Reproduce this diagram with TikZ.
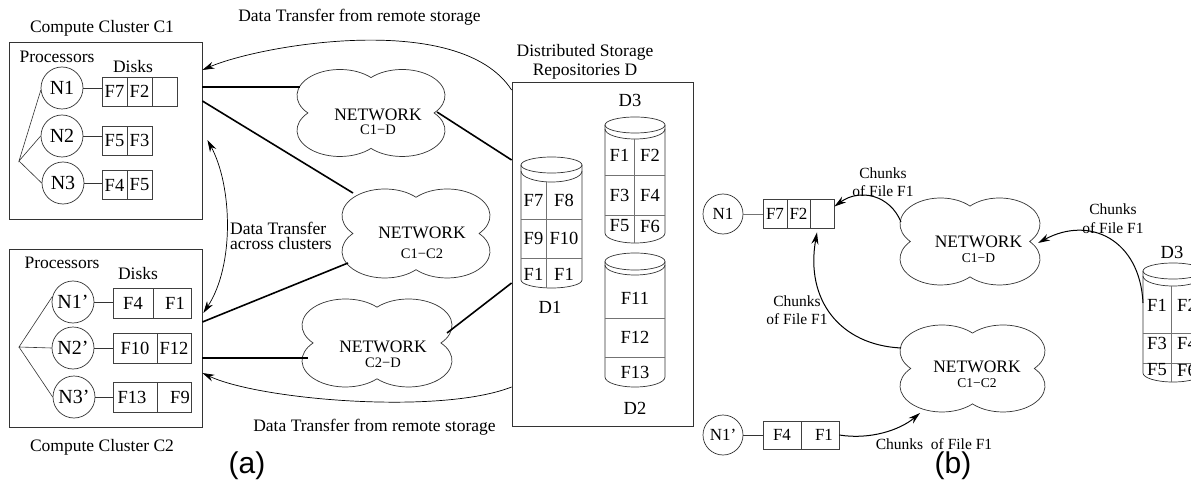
\documentclass[tikz,border=0pt]{standalone}
\usepackage{fontspec}
\setmainfont{Liberation Serif}
\newfontfamily\panelfont{Liberation Sans}
\usetikzlibrary{arrows.meta}

\newcommand\txtsz{\fontsize{17.5}{20}\selectfont}
\newcommand\subsz{\fontsize{14.5}{16}\selectfont}
\newcommand\subbsz{\fontsize{13.5}{15}\selectfont}
\newcommand\cellsz{\fontsize{18.5}{20}\selectfont}
\newcommand\procsz{\fontsize{20}{22}\selectfont}
\newcommand\smallprocsz{\fontsize{17}{19}\selectfont}
\newcommand\chunksz{\fontsize{15.5}{18.5}\selectfont}

% cylinder: centre x, half width, lid centre y, lid half height,
% rim centre y, rim depth, foot y, foot depth
\newcommand\drum[8]{%
  \draw[drumline] (#1,#3) ellipse[x radius=#2, y radius=#4];
  \draw[drumline] ({#1-#2},#5) arc[start angle=180, end angle=0, x radius=#2, y radius=#6];
  \draw[drumline] ({#1-#2},#3) -- ({#1-#2},#7)
     arc[start angle=180, end angle=0, x radius=#2, y radius=#8] -- ({#1+#2},#3);
}

% four-lobed cloud outline around a node, half width #2, half height #3
\newcommand\cloudat[3]{%
  \begin{scope}[shift={(#1.center)}, xscale=#2, yscale=#3]
    \draw[cloudline] (0,-0.814)
      arc[start angle=-136.4, end angle=41.8, x radius=0.58, y radius=0.6]
      arc[start angle=-41.8, end angle=136.4, x radius=0.58, y radius=0.6]
      arc[start angle=43.6, end angle=221.8, x radius=0.58, y radius=0.6]
      arc[start angle=138.2, end angle=316.4, x radius=0.58, y radius=0.6]
      -- cycle;
  \end{scope}}

\tikzset{
  txt/.style={font=\txtsz, inner sep=0},
  boxframe/.style={draw=black!80, line width=0.8pt, inner sep=0},
  proc/.style={circle, draw=black!80, line width=0.7pt, minimum size=42pt, inner sep=0, font=\procsz},
  procb/.style={circle, draw=black!80, line width=0.7pt, minimum size=40pt, inner sep=0, font=\smallprocsz},
  cell/.style={draw=black!75, line width=0.7pt, minimum width=#1, minimum height=29pt, inner sep=0, font=\cellsz},
  cellb/.style={draw=black!75, line width=0.7pt, minimum width=#1, minimum height=29pt, inner sep=0, font=\smallprocsz},
  cloudnode/.style 2 args={minimum width=#1, minimum height=#2, inner sep=0},
  cloudline/.style={draw=black!80, line width=0.7pt},
  drumline/.style={draw=black!80, line width=0.7pt},
  gridline/.style={draw=black!55, line width=0.7pt},
  thinline/.style={draw=black!80, line width=0.6pt},
  link/.style={draw=black, line width=1.6pt},
  transfer/.style={draw=black, line width=0.7pt, -{Stealth[length=12pt,width=7pt]}},
  chunkarrow/.style={draw=black, line width=1pt, -{Stealth[length=12pt,width=7pt]}},
  drumtext/.style={font=\cellsz, inner sep=0},
  chunktext/.style={font=\chunksz, align=center, inner sep=0},
}

\begin{document}
\begin{tikzpicture}[x=1pt, y=-1pt]
\useasboundingbox (0,0) rectangle (1191,481);
\clip (0,0) rectangle (1191,481);
\fill[white] (0,0) rectangle (1191,481);

%%% ---------------- (a) ----------------
% compute cluster C1
\node[txt] (c1lab) at (102,28) {Compute Cluster C1};
\node[boxframe, minimum width=193pt, minimum height=177pt] (c1) at (105.5,130.5) {};
\node[txt] (c1proc) at (57,57) {Processors};
\node[txt] (c1disk) at (133,67) {Disks};
\node[proc] (p1) at (62,88) {N1};
\node[proc] (p2) at (62,136) {N2};
\node[proc] (p3) at (63,183) {N3};
\node[cell=25pt] (a11) at (114.5,91.5) {F7};
\node[cell=25pt] (a12) at (139.5,91.5) {F2};
\node[cell=25pt] (a13) at (164.5,91.5) {};
\node[cell=25pt] (a21) at (114.5,140.5) {F5};
\node[cell=25pt] (a22) at (139.5,140.5) {F3};
\node[cell=25pt] (a31) at (114.5,185) {F4};
\node[cell=25pt] (a32) at (139.5,185) {F5};
\draw[thinline] (p1.east) -- (p1.east -| a11.west);
\draw[thinline] (p2.east) -- (p2.east -| a21.west);
\draw[thinline] (p3.east) -- (p3.east -| a31.west);
\coordinate (t1) at (19,161);
\draw[thinline] (p1.186) -- (t1) -- (p2.west);
\draw[thinline] (t1) -- (p3.west);

% compute cluster C2
\node[txt] (c2lab) at (102,447) {Compute Cluster C2};
\node[boxframe, minimum width=193pt, minimum height=178pt] (c2) at (105.5,338) {};
\node[txt] (c2proc) at (62,263) {Processors};
\node[txt] (c2disk) at (138,274) {Disks};
\node[proc] (q1) at (73,302) {N1'};
\node[proc] (q2) at (73,348) {N2'};
\node[proc] (q3) at (74,397) {N3'};
\node[cell=40pt, minimum height=30pt] (b11) at (133,303) {F4};
\node[cell=38pt, minimum height=30pt] (b12) at (172,303) {\hspace*{6pt}F1};
\node[cell=44pt, minimum height=30pt] (b21) at (135,348) {F10};
\node[cell=34pt, minimum height=30pt] (b22) at (174,348) {F12};
\node[cell=44pt, minimum height=30pt] (b31) at (135,397) {\hspace*{-6pt}F13};
\node[cell=34pt, minimum height=30pt] (b32) at (174,397) {\hspace*{12pt}F9};
\draw[thinline] (q1.east) -- (q1.east -| b11.west);
\draw[thinline] (q2.east) -- (q2.east -| b21.west);
\draw[thinline] (q3.east) -- (q3.east -| b31.west);
\coordinate (t2) at (19,347);
\draw[thinline] (q1.165) -- (t2) -- (q2.west);
\draw[thinline] (t2) -- (q3.west);

% networks
\node[cloudnode={148pt}{87pt}] (n1) at (371,113) {};
\cloudat{n1}{74}{43.5}
\node[txt] (n1t) at (378,115) {NETWORK};
\node[font=\subsz, inner sep=0] (n1s) at (378,130) {C1−D};

\node[cloudnode={148pt}{89pt}] (n2) at (416,233.5) {};
\cloudat{n2}{74}{44.5}
\node[txt] (n2t) at (422,233) {NETWORK};
\node[font=\subsz, inner sep=0] (n2s) at (422,254) {C1−C2};

\node[cloudnode={150pt}{88pt}] (n3) at (377,343) {};
\cloudat{n3}{75}{44}
\node[txt] (n3t) at (383,347) {NETWORK};
\node[font=\subsz, inner sep=0] (n3s) at (383,363) {C2−D};

% storage repositories
\node[txt, align=center, font=\fontsize{17.5}{19}\selectfont] (stolab) at (585,61.5) {Distributed Storage\\Repositories D};
\node[boxframe, minimum width=181pt, minimum height=344pt] (sto) at (602.5,254) {};

\drum{551.5}{30.5}{165}{8}{171}{11}{280}{8}
\draw[gridline] (521,219) -- (582,219);
\draw[gridline] (521,258) -- (582,258);
\draw[gridline] (546,182) -- (546,288);
\node[drumtext] (d1a) at (533.5,200) {F7};
\node[drumtext] (d1b) at (564,200) {F8};
\node[drumtext] (d1c) at (533.5,238) {F9};
\node[drumtext] (d1d) at (564,238) {F10};
\node[drumtext] (d1e) at (533.5,274) {F1};
\node[drumtext] (d1f) at (564,274) {F1};
\node[drumtext] (d1lab) at (550,307) {D1};

\drum{635}{30}{125}{8}{129}{10}{233}{10}
\draw[gridline] (605,175) -- (665,175);
\draw[gridline] (605,215) -- (665,215);
\draw[gridline] (634,139) -- (634,243);
\node[drumtext] (d3a) at (619.5,155) {F1};
\node[drumtext] (d3b) at (650,155) {F2};
\node[drumtext] (d3c) at (619.5,195) {F3};
\node[drumtext] (d3d) at (650,195) {F4};
\node[drumtext] (d3e) at (619.5,226) {F5};
\node[drumtext] (d3f) at (650,226) {F6};
\node[drumtext] (d3lab) at (630,100) {D3};

\drum{635}{30}{261.5}{8.5}{265}{10}{377}{10}
\draw[gridline] (605,318) -- (665,318);
\draw[gridline] (605,357) -- (665,357);
\node[drumtext] (d2a) at (635,298) {F11};
\node[drumtext] (d2b) at (635,337) {F12};
\node[drumtext] (d2c) at (635,372) {F13};
\node[drumtext] (d2lab) at (635,408) {D2};

% network links
\draw[link] ([shift={(0,-43.5)}]c1.east) -- ([shift={(-71,-26)}]n1.center);
\draw[link] ([shift={(0,-29.5)}]c1.east) -- ([shift={(-63,-40.5)}]n2.center);
\draw[link] ([shift={(66,-1)}]n1.center) -- ([shift={(0,-94)}]sto.west);
\draw[link] ([shift={(-68,29.5)}]n2.center) -- ([shift={(0,-16)}]c2.east);
\draw[link] ([shift={(0,20)}]c2.east) -- ([shift={(-69,15)}]n3.center);
\draw[link] ([shift={(70,-10)}]n3.center) -- ([shift={(0,29)}]sto.west);

% data transfers
\draw[transfer] ([shift={(0,-164)}]sto.west) .. controls (460,10) and (260,45) .. ([shift={(0,-60.5)}]c1.east);
\node[txt] (toplab) at (359.5,17) {Data Transfer from remote storage};
\draw[transfer] ([shift={(0,133)}]sto.west) .. controls (440,415) and (260,400) .. ([shift={(0,35)}]c2.east);
\node[txt] (botlab) at (374.5,427) {Data Transfer from remote storage};
\draw[transfer, {Stealth[length=12pt,width=7pt]}-{Stealth[length=12pt,width=7pt]}]
  ([shift={(5,9.5)}]c1.east) .. controls (232,185) and (235,265) .. ([shift={(1,-25)}]c2.east);
\node[txt, anchor=west, align=left, font=\fontsize{17.5}{14.5}\selectfont] (crosslab) at (230,236) {Data Transfer\\across clusters};

\node[font=\panelfont\fontsize{30}{32}\selectfont, inner sep=0] (pa) at (247,466) {(a)};

%%% ---------------- (b) ----------------
\node[procb] (r1) at (723,214) {N1};
\node[cellb=24pt] (e11) at (775,213.5) {F7};
\node[cellb=23pt] (e12) at (798.5,213.5) {F2};
\node[cellb=24pt] (e13) at (822,213.5) {};
\draw[thinline, draw=black!55] (r1.east) -- (r1.east -| e11.west);

\node[procb] (r2) at (723,435) {N1'};
\node[cellb=38pt, minimum height=28pt] (e21) at (782,435) {F4};
\node[cellb=38pt, minimum height=28pt] (e22) at (820,435) {\hspace*{8pt}F1};
\draw[thinline] (r2.east) -- (e21.west);

\node[cloudnode={140pt}{87pt}] (m1) at (970,241.5) {};
\cloudat{m1}{70}{43.5}
\node[txt] (m1t) at (978.5,242) {NETWORK};
\node[font=\subbsz, inner sep=0] (m1s) at (978.5,258) {C1−D};

\node[cloudnode={145pt}{87pt}] (m2) at (972.5,368.5) {};
\cloudat{m2}{72.5}{43.5}
\node[txt] (m2t) at (977,367) {NETWORK};
\node[font=\subbsz, inner sep=0] (m2s) at (977,383) {C1−C2};

% remote repository D3
\drum{1173}{30}{271}{8}{276}{10}{373}{9}
\draw[gridline] (1143,333) -- (1203,333);
\draw[gridline] (1143,363) -- (1203,363);
\draw[gridline] (1171,286) -- (1171,382);
\node[drumtext] (f3a) at (1157,305) {F1};
\node[drumtext] (f3b) at (1187,305) {F2};
\node[drumtext] (f3c) at (1157,343) {F3};
\node[drumtext] (f3d) at (1187,343) {F4};
\node[drumtext] (f3e) at (1157,370) {F5};
\node[drumtext] (f3f) at (1187,370) {F6};
\node[drumtext] (f3lab) at (1172,252) {D3};
\coordinate (d3side) at (1143,303);

% chunk movements
\draw[chunkarrow] (e22.east) .. controls (870,440) and (900,430) .. ([shift={(-52.5,44.5)}]m2.center);
\node[chunktext] (cl1) at (934,444) {Chunks\ \ of File F1};
\draw[chunkarrow] ([shift={(-71.5,-20.5)}]m2.center) .. controls (840,345) and (805,300) .. ([shift={(-5,4)}]e13.south);
\node[chunktext] (cl2) at (797,310) {Chunks\\of File F1};
\draw[chunkarrow] ([shift={(-69,-19.5)}]m1.center) .. controls (890,195) and (860,188) .. ([shift={(0,-7)}]e13.east);
\node[chunktext] (cl3) at (883,182) {Chunks\\of File F1};
\draw[chunkarrow] (d3side) .. controls (1140,240) and (1090,215) .. ([shift={(68,1.5)}]m1.center);
\node[chunktext] (cl4) at (1113,218.5) {Chunks\\of File F1};

\node[font=\panelfont\fontsize{30}{32}\selectfont, inner sep=0] (pb) at (953,466) {(b)};
\end{tikzpicture}
\end{document}
